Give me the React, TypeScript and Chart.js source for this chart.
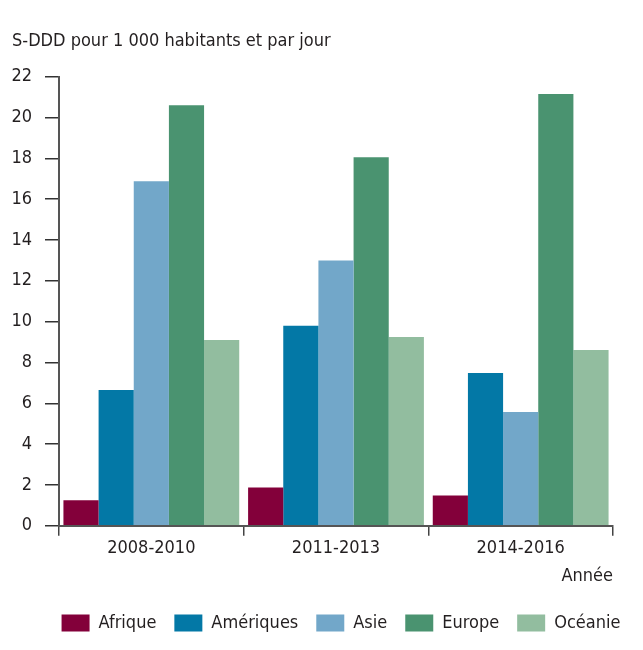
import React, { useEffect, useRef } from "react";
import { Chart, registerables } from "chart.js";

Chart.register(...registerables);

const categories = ["2008-2010", "2011-2013", "2014-2016"];
const seriesNames = ["Afrique", "Amériques", "Asie", "Europe", "Océanie"];
const afrique = [1.25, 1.88, 1.49];
const ameriques = [6.65, 9.8, 7.48];
const asie = [16.87, 12.99, 5.57];
const europe = [20.6, 18.05, 21.15];
const oceanie = [9.1, 9.25, 8.61];
const colors = ["#83003a", "#0378a6", "#72a7c9", "#4a9370", "#92bd9f"];
const yTitle = "S-DDD pour 1 000 habitants et par jour";
const xTitle = "Année";

const FONT = "'DejaVu Sans Condensed', 'Liberation Sans Narrow', sans-serif";
const TEXT = "#231f20";

const legendShift = {
  id: "legendShift",
  afterLayout(chart: any) {
    const lg = chart.legend;
    if (!lg) return;
    const target = 333; // desired legend centre (canvas px)
    const d = target - (lg.left + lg.right) / 2;
    lg.left += d;
    lg.right += d;
  },
};

export default function App() {
  const ref = useRef<HTMLCanvasElement | null>(null);
  useEffect(() => {
    if (!ref.current) return;
    const values = [afrique, ameriques, asie, europe, oceanie];
    const chart = new Chart(ref.current, {
      type: "bar",
      data: {
        labels: categories,
        datasets: seriesNames.map((name, i) => ({
          label: name,
          data: values[i],
          backgroundColor: colors[i],
          borderWidth: 0,
          categoryPercentage: 0.952,
          barPercentage: 1,
        })),
      },
      plugins: [legendShift],
      options: {
        responsive: false,
        animation: false,
        layout: { padding: { left: 4, right: 22, top: 0, bottom: 0 } },
        plugins: {
          title: {
            display: true,
            text: yTitle,
            align: "start",
            color: TEXT,
            font: { family: FONT, size: 18, weight: "normal" },
            padding: { top: 23, bottom: 24 },
          },
          legend: {
            position: "bottom",
            labels: {
              color: TEXT,
              font: { family: FONT, size: 18 },
              boxWidth: 28,
              boxHeight: 17,
              padding: 18,
            },
          },
          tooltip: { enabled: false },
        },
        scales: {
          x: {
            grid: {
              display: true,
              drawOnChartArea: false,
              drawTicks: true,
              tickLength: 10,
              color: "#444",
              lineWidth: 1.5,
              offset: true,
            },
            border: { color: "#555", width: 2 },
            ticks: {
              color: TEXT,
              font: { family: FONT, size: 18 },
              padding: 2,
            },
            title: {
              display: true,
              text: xTitle,
              align: "end",
              color: TEXT,
              font: { family: FONT, size: 18 },
              padding: { top: 4, bottom: 9 },
            },
          },
          y: {
            min: 0,
            max: 22,
            afterFit(scale: any) {
              scale.width = 47;
            },
            grid: {
              display: true,
              drawOnChartArea: false,
              drawTicks: true,
              tickLength: 14,
              color: "#333",
              lineWidth: 1.5,
            },
            border: { color: "#555", width: 2 },
            ticks: {
              stepSize: 2,
              color: TEXT,
              font: { family: FONT, size: 18 },
              padding: 13,
            },
          },
        },
      },
    });
    return () => chart.destroy();
  }, []);
  return <canvas ref={ref} width={627} height={634} />;
}
